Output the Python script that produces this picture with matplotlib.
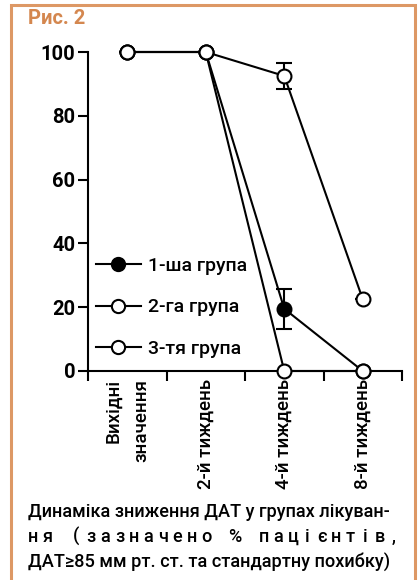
import matplotlib.pyplot as plt
from matplotlib.patches import Rectangle
from matplotlib.lines import Line2D

plt.rcParams['font.family'] = ['Roboto', 'DejaVu Sans']
plt.rcParams['font.weight'] = 'medium'

# дані (читано з рисунка)
periods = ['Вихідні\nзначення', '2-й тиждень', '4-й тиждень', '8-й тиждень']
group1 = [100, 100, 19.5, 0]
group2 = [100, 100, 92.5, 22.5]
group3 = [100, 100, 0, 0]
group1_err = [0, 0, 6.3, 0]
group2_err = [0, 0, 4.0, 0]
legend_labels = ['1-ша група', '2-га група', '3-тя група']
y_ticks = [0, 20, 40, 60, 80, 100]

caption1 = 'Динаміка зниження ДАТ у групах лікуван-'
caption2 = 'ня (зазначено % пацієнтів,'
caption3 = 'ДАТ≥85 мм рт. ст. та стандартну похибку)'

W, H = 418, 580
fig = plt.figure(figsize=(W / 100, H / 100), dpi=100)
fig.patch.set_facecolor('white')

# рамка
frame = Rectangle((10.5 / W, -0.02), 404 / W, 1 - 4.5 / H + 0.02,
                  transform=fig.transFigure, fill=False,
                  edgecolor='#DD9865', linewidth=2.2)
fig.patches.append(frame)
fig.text(28 / W, 1 - 19 / H, 'Рис. 2', color='#D4874F', fontsize=14.5,
         fontweight='bold', va='center', ha='left')

ax = fig.add_axes([88 / W, (H - 371) / H, 314 / W, 319 / H])
x = list(range(len(periods)))

lw = 1.5
ms = 10
style = dict(color='black', linewidth=lw, markersize=ms,
             markeredgewidth=1.5, markeredgecolor='black', clip_on=False)

# 1-ша група знизу, щоб відкриті маркери перекривали її
ax.errorbar(x, group1, yerr=group1_err, marker='o', markerfacecolor='black',
            capsize=6, elinewidth=lw, capthick=lw, zorder=3, **style)
ax.errorbar(x, group2, yerr=group2_err, marker='o', markerfacecolor='white',
            capsize=6, elinewidth=lw, capthick=lw, zorder=4, **style)
ax.plot(x, group3, marker='o', markerfacecolor='white', zorder=5, **style)

ax.set_xlim(-0.5, 3.5)
ax.set_ylim(0, 100)
for s in ['top', 'right']:
    ax.spines[s].set_visible(False)
for s in ['left', 'bottom']:
    ax.spines[s].set_linewidth(1.5)

ax.set_yticks(y_ticks)
ax.tick_params(axis='y', length=7, width=1.5, pad=2, labelsize=14.5)
for t in ax.get_yticklabels():
    t.set_fontweight('bold')

ax.set_xticks(x)
ax.set_xticklabels(periods, rotation=90, multialignment='right', fontsize=13.5,
                   linespacing=1.7)
ax.tick_params(axis='x', which='major', length=0, pad=6)
ax.set_xticks([-0.5, 0.5, 1.5, 2.5, 3.5], minor=True)
ax.tick_params(axis='x', which='minor', length=7, width=1.5)

faces = ['black', 'white', 'white']
handles = [Line2D([], [], color='black', linewidth=lw, marker='o', markersize=9.5,
                  markerfacecolor=f, markeredgecolor='black', markeredgewidth=1.5)
           for f in faces]
ax.legend(handles, legend_labels, loc='upper left', bbox_to_anchor=(0.025, 0.357),
          frameon=False, fontsize=14, handlelength=2.3, handletextpad=0.4,
          labelspacing=1.2, borderpad=0, borderaxespad=0)

# підпис
fs = 13.1
fig.text(28 / W, 1 - 512 / H, caption1, fontsize=fs, ha='left', va='center')
n = len(caption2)
for i, ch in enumerate(caption2):
    xp = 33 + i * (394 - 33) / (n - 1)
    fig.text(xp / W, 1 - 537 / H, ch, fontsize=fs, ha='center', va='center')
fig.text(28 / W, 1 - 562 / H, caption3, fontsize=fs, ha='left', va='center')

fig.savefig('out.png', dpi=100)
